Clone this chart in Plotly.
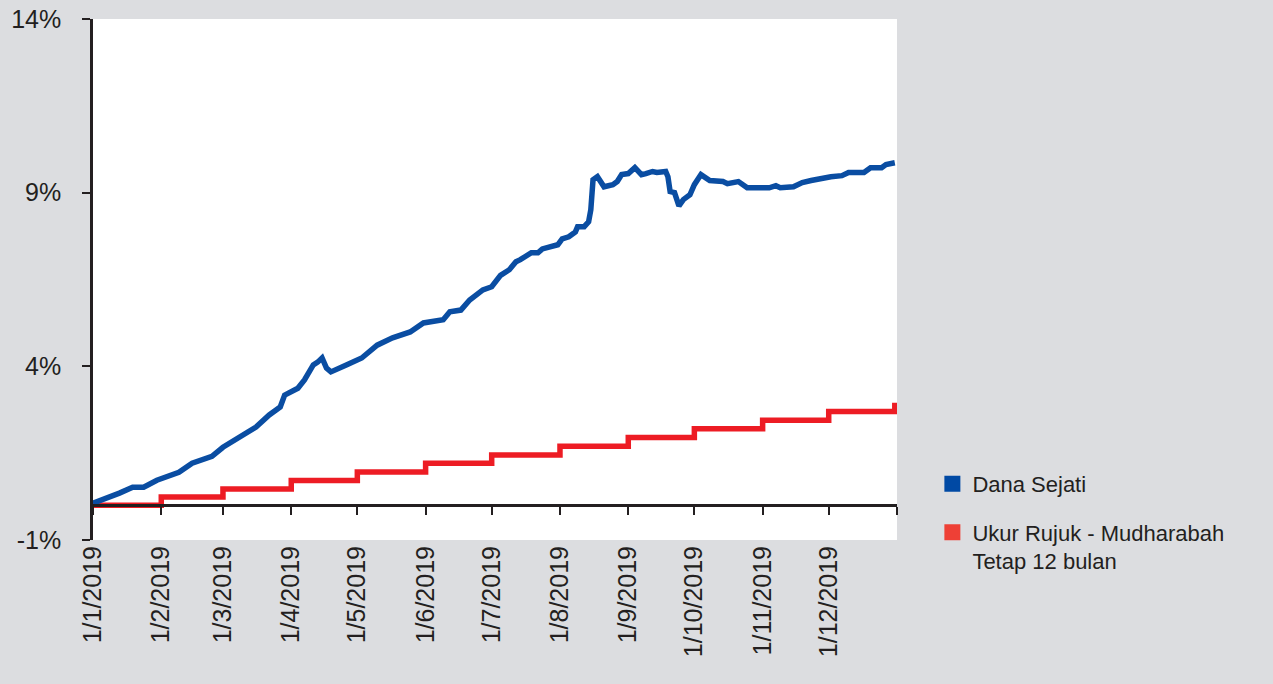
import plotly.graph_objects as go

# ---------------- data ----------------
blue_dates = [
    "2019-01-01", "2019-01-09", "2019-01-13", "2019-01-19", "2019-01-24", "2019-01-30",
    "2019-02-03", "2019-02-09", "2019-02-15", "2019-02-21", "2019-02-24", "2019-03-01",
    "2019-03-08", "2019-03-16", "2019-03-22", "2019-03-27", "2019-03-29", "2019-04-01",
    "2019-04-04", "2019-04-07", "2019-04-11", "2019-04-13", "2019-04-15", "2019-04-17",
    "2019-04-19", "2019-04-26", "2019-05-03", "2019-05-10", "2019-05-17", "2019-05-25",
    "2019-05-31", "2019-06-09", "2019-06-12", "2019-06-17", "2019-06-21", "2019-06-27",
    "2019-07-01", "2019-07-05", "2019-07-09", "2019-07-12", "2019-07-14", "2019-07-19",
    "2019-07-22", "2019-07-24", "2019-07-27", "2019-07-31", "2019-08-02", "2019-08-05",
    "2019-08-08", "2019-08-09", "2019-08-12", "2019-08-14", "2019-08-15", "2019-08-16",
    "2019-08-18", "2019-08-21", "2019-08-25", "2019-08-27", "2019-08-29", "2019-09-01",
    "2019-09-04", "2019-09-07", "2019-09-09", "2019-09-12", "2019-09-14", "2019-09-18",
    "2019-09-19", "2019-09-20", "2019-09-22", "2019-09-24", "2019-09-26", "2019-09-28",
    "2019-09-29", "2019-10-01", "2019-10-03", "2019-10-04", "2019-10-08", "2019-10-11",
    "2019-10-14", "2019-10-16", "2019-10-21", "2019-10-25", "2019-10-31", "2019-11-04",
    "2019-11-07", "2019-11-09", "2019-11-15", "2019-11-19", "2019-11-23", "2019-11-28",
    "2019-12-02", "2019-12-07", "2019-12-10", "2019-12-14", "2019-12-17", "2019-12-20",
    "2019-12-25", "2019-12-27", "2019-12-31",
]
blue_values = [
    0.06, 0.23, 0.35, 0.52, 0.52, 0.72,
    0.81, 0.95, 1.21, 1.36, 1.41, 1.67,
    1.96, 2.25, 2.60, 2.83, 3.17, 3.26,
    3.37, 3.61, 4.04, 4.12, 4.24, 3.95,
    3.84, 4.04, 4.24, 4.61, 4.82, 4.99,
    5.25, 5.34, 5.57, 5.62, 5.91, 6.20,
    6.29, 6.62, 6.78, 7.01, 7.07, 7.27,
    7.27, 7.38, 7.44, 7.50, 7.67, 7.73,
    7.87, 8.02, 8.02, 8.16, 8.51, 9.37,
    9.46, 9.17, 9.23, 9.32, 9.52, 9.55,
    9.72, 9.52, 9.55, 9.61, 9.58, 9.61,
    9.46, 9.03, 9.00, 8.62, 8.80, 8.91,
    8.94, 9.23, 9.43, 9.52, 9.35, 9.35,
    9.32, 9.26, 9.32, 9.14, 9.14, 9.14,
    9.20, 9.14, 9.17, 9.29, 9.35, 9.43,
    9.46, 9.49, 9.58, 9.58, 9.58, 9.72,
    9.72, 9.81, 9.86,
]

red_dates = [
    "2019-01-01", "2019-02-01", "2019-03-01", "2019-04-01", "2019-05-01", "2019-06-01",
    "2019-07-01", "2019-08-01", "2019-09-01", "2019-10-01", "2019-11-01", "2019-12-01",
    "2019-12-31",
]
red_values = [0.00, 0.24, 0.47, 0.71, 0.96, 1.21, 1.45, 1.70, 1.95, 2.20, 2.45, 2.70, 2.95]

tick_dates = [
    "2019-01-01", "2019-02-01", "2019-03-01", "2019-04-01", "2019-05-01", "2019-06-01",
    "2019-07-01", "2019-08-01", "2019-09-01", "2019-10-01", "2019-11-01", "2019-12-01",
]
tick_labels = [
    "1/1/2019", "1/2/2019", "1/3/2019", "1/4/2019", "1/5/2019", "1/6/2019",
    "1/7/2019", "1/8/2019", "1/9/2019", "1/10/2019", "1/11/2019", "1/12/2019",
]
zero_tick_dates = tick_dates + ["2020-01-01"]

y_ticks = [-1, 4, 9, 14]
y_tick_labels = ["-1%", "4%", "9%", "14%"]

series_names = ["Dana Sejati", "Ukur Rujuk - Mudharabah<br>Tetap 12 bulan"]
line_colors = ["#0a4da2", "#ed1c24"]
legend_colors = ["#0049a4", "#ee4036"]

# ---------------- figure ----------------
FONT = "Liberation Sans, Arial, Helvetica, sans-serif"
TXT = "#231f20"
BG = "#dcdde0"
X_RANGE = ["2019-01-01", "2020-01-01"]

fig = go.Figure()

fig.add_trace(go.Scatter(
    x=red_dates, y=red_values, mode="lines", line_shape="hv",
    line=dict(color=line_colors[1], width=5.5), showlegend=False, hoverinfo="skip",
))
fig.add_trace(go.Scatter(
    x=blue_dates, y=blue_values, mode="lines",
    line=dict(color=line_colors[0], width=5.5), showlegend=False, hoverinfo="skip",
))

# legend-only entries with square symbols
for i, (nm, col) in enumerate(zip(series_names, legend_colors)):
    fig.add_trace(go.Scatter(
        x=[None], y=[None], mode="markers", name=nm, legendgroup=f"g{i}",
        marker=dict(symbol="square", size=20, color=col),
    ))

# invisible trace on the zero-line axis so it is drawn
fig.add_trace(go.Scatter(
    x=X_RANGE, y=[None, None], xaxis="x2", mode="lines", showlegend=False, hoverinfo="skip",
))

fig.update_layout(
    width=1273, height=684,
    paper_bgcolor=BG, plot_bgcolor="white",
    margin=dict(l=93, r=376, t=19, b=144, autoexpand=False),
    font=dict(family=FONT, color=TXT, size=24),
    xaxis=dict(
        type="date", range=X_RANGE, automargin=False,
        tickmode="array", tickvals=tick_dates, ticktext=tick_labels,
        tickangle=-90, ticks="", showline=False, showgrid=False, zeroline=False,
        tickfont=dict(family=FONT, size=25, color=TXT),
    ),
    xaxis2=dict(
        type="date", range=X_RANGE, overlaying="x", anchor="free", position=1/15,
        side="bottom", automargin=False,
        tickmode="array", tickvals=zero_tick_dates, showticklabels=False,
        ticks="outside", ticklen=8, tickwidth=2, tickcolor=TXT,
        showline=True, linecolor=TXT, linewidth=2.5, showgrid=False, zeroline=False,
    ),
    yaxis=dict(
        range=[-1, 14], tickmode="array", tickvals=y_ticks, ticktext=y_tick_labels,
        automargin=False,
        ticks="outside", ticklen=8, tickwidth=2, tickcolor=TXT,
        showline=True, linecolor=TXT, linewidth=2.5, showgrid=False, zeroline=False,
        tickfont=dict(family=FONT, size=25, color=TXT),
        ticklabelstandoff=16,
    ),
    legend=dict(
        x=1.044, xanchor="left", y=0.148, yanchor="top",
        bgcolor="rgba(0,0,0,0)", font=dict(family=FONT, size=22, color=TXT),
        valign="top", tracegroupgap=17, itemsizing="trace",
    ),
)

fig.write_html(
    "out.html",
    config={"displayModeBar": False},
    post_script="document.body.style.margin='0';document.body.style.overflow='hidden';",
)
